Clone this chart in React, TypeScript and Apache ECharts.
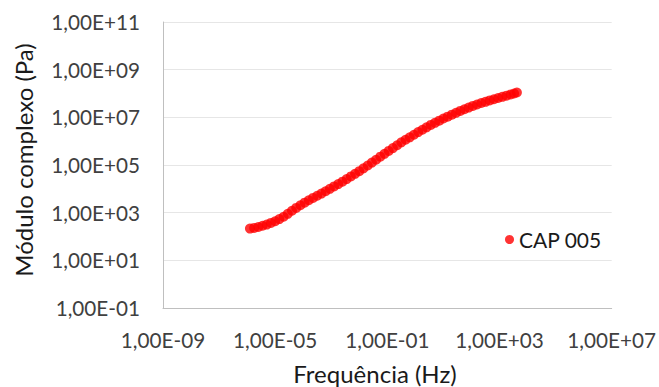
import React, { useEffect, useRef } from "react";
import * as echarts from "echarts";

// Frequência (Hz) and módulo complexo (Pa) of the CAP 005 master curve
const frequencyHz: number[] = [
  1.26e-6, 1.78e-6, 2.51e-6, 3.55e-6, 5.01e-6, 7.08e-6, 1.0e-5, 1.41e-5, 2.0e-5, 2.82e-5,
  3.98e-5, 5.62e-5, 7.94e-5, 1.12e-4, 1.58e-4, 2.24e-4, 3.16e-4, 4.47e-4, 6.31e-4, 8.91e-4,
  1.26e-3, 1.78e-3, 2.51e-3, 3.55e-3, 5.01e-3, 7.08e-3, 1.0e-2, 1.41e-2, 2.0e-2, 2.82e-2,
  3.98e-2, 5.62e-2, 7.94e-2, 0.112, 0.158, 0.224, 0.316, 0.447, 0.631, 0.891,
  1.26, 1.78, 2.51, 3.55, 5.01, 7.08, 10.0, 14.1, 20.0, 28.2,
  39.8, 56.2, 79.4, 112, 158, 224, 316, 447, 631, 891,
  1260, 1780, 2510, 3310, 4170,
];

const complexModulusPa: number[] = [
  214, 229, 251, 282, 316, 372, 437, 537, 676, 891,
  1200, 1580, 2040, 2630, 3310, 4170, 5130, 6310, 7940, 1.0e4,
  1.26e4, 1.58e4, 2.0e4, 2.57e4, 3.31e4, 4.27e4, 5.5e4, 7.24e4, 9.55e4, 1.26e5,
  1.66e5, 2.24e5, 2.95e5, 3.89e5, 5.13e5, 6.76e5, 8.91e5, 1.15e6, 1.45e6, 1.86e6,
  2.4e6, 3.02e6, 3.8e6, 4.79e6, 5.89e6, 7.24e6, 8.91e6, 1.07e7, 1.29e7, 1.55e7,
  1.86e7, 2.19e7, 2.57e7, 3.02e7, 3.47e7, 3.98e7, 4.47e7, 5.13e7, 5.75e7, 6.46e7,
  7.24e7, 8.13e7, 9.12e7, 1.0e8, 1.1e8,
];

const seriesName = "CAP 005";
const xTitle = "Frequência (Hz)";
const yTitle = "Módulo complexo (Pa)";

// Axis ranges (Hz / Pa) and tick steps in decades
const xRange = [1e-9, 1e7];
const yRange = [1e-1, 1e11];
const xStepDecades = 4;
const yStepDecades = 2;

const FONT = "Lato, 'Open Sans', sans-serif";

// Excel-style scientific label: 1,00E+05
function sciLabel(v: number): string {
  const e = Math.round(Math.log10(v));
  const sign = e < 0 ? "-" : "+";
  const abs = Math.abs(e);
  return "1,00E" + sign + (abs < 10 ? "0" + abs : String(abs));
}

export default function App() {
  const ref = useRef<HTMLDivElement>(null);

  useEffect(() => {
    if (!ref.current) return;
    const chart = echarts.init(ref.current, undefined, { renderer: "svg" });
    const points = frequencyHz.map((f, i) => [f, complexModulusPa[i]]);

    chart.setOption({
      animation: false,
      backgroundColor: "#ffffff",
      grid: { left: 163, right: 46, top: 22, bottom: 79 },
      legend: {
        show: true,
        left: 500,
        top: 224,
        icon: "circle",
        itemWidth: 9,
        itemHeight: 9,
        itemGap: 6,
        textStyle: { fontFamily: FONT, fontSize: 21, color: "#1a1a1a" },
        data: [seriesName],
      },
      xAxis: {
        type: "log",
        logBase: 10,
        min: xRange[0],
        max: xRange[1],
        interval: xStepDecades,
        axisLine: { show: true, lineStyle: { color: "#bfbfbf", width: 1 } },
        axisTick: { show: false },
        splitLine: { show: false },
        minorTick: { show: false },
        axisLabel: {
          formatter: sciLabel,
          fontFamily: FONT,
          fontSize: 20.7,
          color: "#404040",
          margin: 21,
        },
      },
      yAxis: {
        type: "log",
        logBase: 10,
        min: yRange[0],
        max: yRange[1],
        interval: yStepDecades,
        axisLine: { show: true, lineStyle: { color: "#bfbfbf", width: 1 } },
        axisTick: { show: false },
        splitLine: { show: true, lineStyle: { color: "#e6e6e6", width: 1 } },
        axisLabel: {
          formatter: sciLabel,
          fontFamily: FONT,
          fontSize: 20.7,
          color: "#404040",
          margin: 23,
        },
      },
      graphic: [
        {
          type: "text",
          x: 375,
          y: 373,
          style: {
            text: xTitle,
            fontFamily: FONT,
            fontSize: 24,
            fill: "#1a1a1a",
            align: "center",
            verticalAlign: "middle",
          },
        },
        {
          type: "text",
          x: 23,
          y: 160,
          rotation: Math.PI / 2,
          style: {
            text: yTitle,
            fontFamily: FONT,
            fontSize: 24,
            fill: "#1a1a1a",
            align: "center",
            verticalAlign: "middle",
          },
        },
      ],
      series: [
        {
          name: seriesName,
          type: "scatter",
          symbol: "circle",
          symbolSize: 10,
          itemStyle: { color: "#ff0000" },
          data: points,
        },
      ],
    });

    return () => chart.dispose();
  }, []);

  return <div ref={ref} style={{ width: 659, height: 387, position: "absolute", left: 0, top: 0 }} />;
}
